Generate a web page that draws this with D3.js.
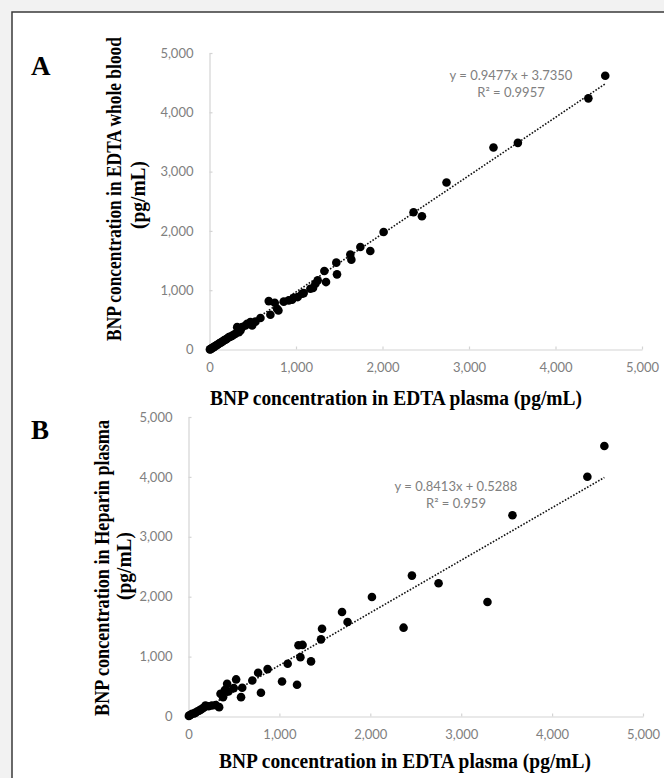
<!DOCTYPE html>
<html>
<head>
<meta charset="utf-8">
<script src="https://cdn.jsdelivr.net/npm/d3@7"></script>
<style>
    body { margin: 0; background: #f2f2f2; }
    svg { display: block; }
</style>
</head>
<body>
<div id="chart"></div>
<script>

// Panel A: EDTA plasma (x) vs EDTA whole blood (y), pg/mL
const plasmaA = [4575, 4380, 3565, 3283, 2740, 2456, 2359, 2013, 1859, 1744, 1640, 1628, 1474, 1466, 1347, 1328,
    1251, 1224, 1197, 1166, 1089, 1070, 1020, 974, 955, 916, 858, 797, 781, 754, 704, 685, 589, 531, 493, 473,
    435, 416, 377, 358, 339, 320, 300, 280, 260, 240, 223, 205, 190, 175, 166, 150, 135, 120, 108, 95, 80, 65,
    50, 40, 30, 20, 12, 5];
const wholeBlood = [4617, 4235, 3485, 3407, 2816, 2247, 2314, 1982, 1661, 1728, 1515, 1600, 1267, 1465, 1137, 1323,
    1166, 1110, 1036, 1025, 951, 941, 884, 873, 839, 828, 808, 659, 687, 789, 585, 816, 530, 470, 405, 461,
    434, 405, 377, 321, 292, 377, 265, 250, 230, 215, 208, 185, 170, 160, 152, 135, 120, 110, 96, 85, 70, 58,
    39, 35, 25, 15, 5, 2];

// Panel B: EDTA plasma (x) vs heparin plasma (y), pg/mL
const plasmaB = [4575, 4388, 3564, 3289, 2751, 2458, 2366, 2018, 1750, 1689, 1469, 1458, 1255, 1210, 1231, 1348,
    1091, 870, 766, 702, 1029, 1194, 797, 578, 524, 591, 498, 425, 440, 400, 352, 380, 337, 300, 258, 220, 187,
    170, 150, 130, 115, 95, 75, 60, 40, 25, 10, 4];
const heparin = [4515, 4002, 3361, 1911, 2224, 2352, 1483, 1995, 1577, 1744, 1466, 1288, 1195, 1190, 991, 920,
    881, 791, 731, 602, 585, 530, 396, 323, 619, 480, 474, 547, 420, 440, 379, 323, 156, 190, 184, 170, 184,
    150, 128, 110, 95, 84, 60, 50, 45, 30, 17, 10];

// dotted trend lines as drawn (start / end in data units)
const trendA = {x: [12, 4575], y: [0, 4480]};
const trendB = {x: [26, 4575], y: [0, 3990]};

const axisTicks = [0, 1000, 2000, 3000, 4000, 5000];
const eqA = ["y = 0.9477x + 3.7350", "R\u00b2 = 0.9957"];
const eqB = ["y = 0.8413x + 0.5288", "R\u00b2 = 0.959"];
const xTitle = "BNP concentration  in EDTA plasma (pg/mL)";
const yTitleA = ["BNP concentration  in EDTA whole blood", "(pg/mL)"];
const yTitleB = ["BNP concentration  in Heparin plasma", "(pg/mL)"];

const serif = "'Liberation Serif', 'Times New Roman', serif";


class ScatterPanel {

    constructor(svg, opts) {
        this.svg = svg;
        this.opts = opts;
        this.initVis();
    }

    initVis() {
        let vis = this;
        let o = vis.opts;

        vis.x = d3.scaleLinear().domain([0, 5000]).range([o.left, o.right]);
        vis.y = d3.scaleLinear().domain([0, 5000]).range([o.bottom, o.top]);

        // axes, ticks inside
        let xAxis = d3.axisBottom(vis.x).tickValues(axisTicks).tickFormat(d3.format(","))
            .tickSizeInner(-3).tickSizeOuter(0).tickPadding(13);
        let yAxis = d3.axisLeft(vis.y).tickValues(axisTicks).tickFormat(d3.format(","))
            .tickSizeInner(-3).tickSizeOuter(0).tickPadding(16);

        [["x", xAxis, "translate(0," + o.bottom + ")"], ["y", yAxis, "translate(" + o.left + ",0)"]]
            .forEach(([k, ax, tr]) => {
                let g = vis.svg.append("g").attr("class", k + "-axis").attr("transform", tr).call(ax);
                g.select(".domain").attr("stroke", "#d4d4d4").attr("stroke-width", 1.2);
                g.selectAll(".tick line").attr("stroke", "#d4d4d4").attr("stroke-width", 1.2);
                g.selectAll(".tick text")
                    .attr("fill", "#808080")
                    .attr("font-family", "Lato, sans-serif")
                    .attr("font-size", 13);
            });

        // trend line
        let tr = o.trend.x.map((d, i) => [d, o.trend.y[i]]);
        vis.svg.append("path")
            .attr("d", d3.line().x(d => vis.x(d[0])).y(d => vis.y(d[1]))(tr))
            .attr("fill", "none")
            .attr("stroke", "#111")
            .attr("stroke-width", 1.6)
            .attr("stroke-dasharray", "1.6,1.6");

        // points
        let pts = o.xs.map((d, i) => ({x: d, y: o.ys[i]}));
        vis.svg.append("g").selectAll("circle")
            .data(pts)
            .enter().append("circle")
            .attr("cx", d => vis.x(d.x))
            .attr("cy", d => vis.y(d.y))
            .attr("r", 4.3)
            .attr("fill", "#000");

        // equation
        vis.svg.append("g").selectAll("text")
            .data(o.eq)
            .enter().append("text")
            .attr("x", o.eqX)
            .attr("y", (d, i) => o.eqY + i * 17)
            .attr("text-anchor", "middle")
            .attr("fill", "#808080")
            .attr("font-family", "Lato, sans-serif")
            .attr("font-size", 13)
            .text(d => d);

        // x title, squeezed horizontally like the source figure
        let xt = vis.svg.append("text")
            .attr("text-anchor", "middle")
            .attr("font-family", serif)
            .attr("font-weight", "bold")
            .attr("font-size", 21)
            .text(xTitle);
        let sx = 372 / xt.node().getComputedTextLength();
        xt.attr("transform", "translate(" + o.xTitleX + "," + o.xTitleY + ") scale(" + sx + ",1)");

        // y title, two lines
        vis.svg.append("g").selectAll("text")
            .data(o.yTitle)
            .enter().append("text")
            .attr("text-anchor", "middle")
            .attr("font-family", serif)
            .attr("font-weight", "bold")
            .attr("font-size", 20)
            .text(d => d)
            .attr("transform", function(d, i) {
                let s = o.yTitleLen[i] / this.getComputedTextLength();
                return "translate(" + o.yTitleX[i] + "," + o.yTitleY[i] + ") rotate(-90) scale(" + s + ",1)";
            });

        // panel letter
        vis.svg.append("text")
            .attr("x", o.letterX)
            .attr("y", o.letterY)
            .attr("font-family", serif)
            .attr("font-weight", "bold")
            .attr("font-size", 27)
            .text(o.letter);
    }
}


let svg = d3.select("#chart").append("svg")
    .attr("width", 664)
    .attr("height", 778);

// white figure area with frame
svg.append("rect")
    .attr("x", 12).attr("y", 12)
    .attr("width", 700).attr("height", 800)
    .attr("fill", "#fff")
    .attr("stroke", "#3a3a3a")
    .attr("stroke-width", 1.5);

new ScatterPanel(svg, {
    xs: plasmaA, ys: wholeBlood, trend: trendA, eq: eqA,
    left: 209.5, right: 642, top: 53, bottom: 349.5,
    eqX: 511, eqY: 80,
    xTitleX: 396, xTitleY: 405,
    yTitle: yTitleA, yTitleX: [121, 145], yTitleY: [189, 195], yTitleLen: [304, 68],
    letter: "A", letterX: 31, letterY: 75
});

new ScatterPanel(svg, {
    xs: plasmaB, ys: heparin, trend: trendB, eq: eqB,
    left: 188.5, right: 643, top: 417, bottom: 716.5,
    eqX: 456, eqY: 491,
    xTitleX: 405, xTitleY: 768,
    yTitle: yTitleB, yTitleX: [109, 131], yTitleY: [568, 566], yTitleLen: [296, 68],
    letter: "B", letterX: 31, letterY: 439
});

</script>
</body>
</html>
